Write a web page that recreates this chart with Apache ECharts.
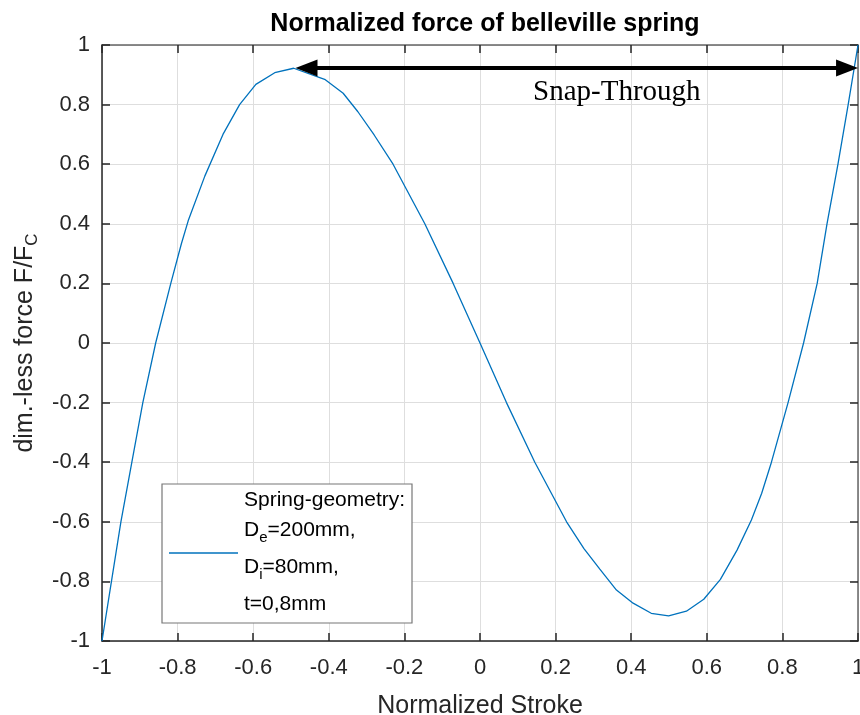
<!DOCTYPE html>
<html><head><meta charset="utf-8">
<script src="https://cdn.jsdelivr.net/npm/echarts@6/dist/echarts.min.js"></script>
<style>html,body{margin:0;padding:0;background:#fff}#c{width:860px;height:715px}</style>
</head><body><div id="c"></div>
<script>
// Normalized stroke (x) and dimensionless force (y)
const strokeValues = [-1, -0.975, -0.95, -0.921, -0.892, -0.858, -0.818, -0.79, -0.772, -0.728, -0.68, -0.636, -0.593, -0.543, -0.493, -0.411, -0.362, -0.323, -0.28, -0.23, -0.146, -0.071, 0, 0.07, 0.145, 0.229, 0.275, 0.317, 0.361, 0.405, 0.453, 0.499, 0.546, 0.592, 0.636, 0.68, 0.718, 0.745, 0.771, 0.815, 0.856, 0.892, 0.918, 0.947, 0.974, 1];
const forceValues = [-1, -0.8, -0.6, -0.4, -0.2, 0, 0.2, 0.333, 0.41, 0.56, 0.70, 0.80, 0.868, 0.907, 0.922, 0.885, 0.838, 0.776, 0.698, 0.6, 0.4, 0.2, 0, -0.2, -0.4, -0.6, -0.69, -0.759, -0.829, -0.873, -0.907, -0.916, -0.9, -0.86, -0.793, -0.695, -0.594, -0.505, -0.4, -0.2, 0, 0.2, 0.4, 0.6, 0.8, 1];
// arrow head centres (tips sit at x = -0.488 and x = 1)
const arrowStart = [-0.459, 0.923];
const arrowEnd = [0.971, 0.923];
const annotationText = 'Snap-Through';
const annotationPos = [0.362, 0.842];
const titleText = 'Normalized force of belleville spring';
const xName = 'Normalized Stroke';
const legendLines = ['Spring-geometry:', 'D|e|=200mm,', 'D|i|=80mm,', 't=0,8mm'];

const data = strokeValues.map((x, i) => [x, forceValues[i]]);
const chart = echarts.init(document.getElementById('c'), null, {renderer: 'canvas'});
const font = 'Liberation Sans, Arial, sans-serif';
const axisCommon = {
  type: 'value', min: -1, max: 1, interval: 0.2,
  axisTick: {show: true, inside: true, length: 8, lineStyle: {color: '#262626', width: 1.5}},
  axisLine: {show: true, onZero: false, lineStyle: {color: '#262626', width: 1.5}},
  splitLine: {show: false},
  axisLabel: {show: false}
};
chart.setOption({
  animation: false,
  backgroundColor: '#fff',
  title: {text: titleText, left: 480, top: 7, textAlign: 'center',
    textStyle: {fontFamily: font, fontWeight: 'bold', fontSize: 25, color: '#000'}},
  grid: {left: 102, right: 2, top: 45, bottom: 74, containLabel: false, outerBoundsMode: 'none'},
  xAxis: [
    Object.assign({}, axisCommon, {
      position: 'bottom',
      name: xName, nameLocation: 'middle', nameGap: 53,
      nameTextStyle: {fontFamily: font, fontSize: 25, color: '#262626'},
      axisLabel: {show: true, margin: 16, fontFamily: font, fontSize: 22, color: '#262626'},
      splitLine: {show: true, lineStyle: {color: '#dedede', width: 1}}
    }),
    Object.assign({}, axisCommon, {position: 'top',
      axisLine: {show: true, onZero: false, lineStyle: {color: '#666', width: 1.5}}})
  ],
  yAxis: [
    Object.assign({}, axisCommon, {
      position: 'left',
      name: '{a|dim.-less force F/F}{b|C}', nameLocation: 'middle', nameGap: 56, nameRotate: 90,
      nameTextStyle: {fontFamily: font, fontSize: 25, color: '#262626',
        rich: {a: {fontFamily: font, fontSize: 25, color: '#262626', lineHeight: 32},
               b: {fontFamily: font, fontSize: 17, color: '#262626', lineHeight: 32, padding: [15, 0, 0, 0]}}},
      axisLabel: {show: true, margin: 12, fontFamily: font, fontSize: 22, color: '#262626'},
      splitLine: {show: true, lineStyle: {color: '#dedede', width: 1}}
    }),
    Object.assign({}, axisCommon, {position: 'right',
      axisLine: {show: true, onZero: false, lineStyle: {color: '#666', width: 1.5}}})
  ],
  series: [{
    type: 'line', data: data, showSymbol: false, symbol: 'none',
    lineStyle: {color: '#0072BD', width: 1.3}, z: 3,
    markLine: {
      silent: true, symbol: ['triangle', 'triangle'], symbolSize: [17, 22],
      lineStyle: {color: '#000', width: 4, type: 'solid'},
      label: {show: false},
      data: [[{coord: arrowStart}, {coord: arrowEnd}]]
    }
  }]
});

function buildGraphics() {
  const p = chart.convertToPixel({gridIndex: 0}, annotationPos);
  const lx = 162, ly = 484, lw = 250, lh = 139;
  const rich = {n: {fontFamily: font, fontSize: 21, color: '#000'},
                s: {fontFamily: font, fontSize: 15, color: '#000', padding: [14, 0, 0, 0]}};
  const ys = [503, 533, 570, 607];
  const texts = legendLines.map((t, i) => {
    const parts = t.split('|');
    const txt = parts.length === 3 ? '{n|' + parts[0] + '}{s|' + parts[1] + '}{n|' + parts[2] + '}' : '{n|' + t + '}';
    return {type: 'text', left: 244, top: ys[i] - 13,
      style: {text: txt, rich: rich, fontFamily: font, fontSize: 21, fill: '#000'}};
  });
  chart.setOption({graphic: [
    {type: 'text', x: p[0], y: p[1], style: {text: annotationText, fontFamily: 'Liberation Serif, Times New Roman, serif', fontSize: 29, fill: '#000', align: 'center', verticalAlign: 'middle'}, z: 10},
    {type: 'rect', shape: {x: lx, y: ly, width: lw, height: lh}, style: {fill: '#fff', stroke: '#777', lineWidth: 1.2}, z: 10},
    {type: 'line', shape: {x1: 169, y1: 553, x2: 238, y2: 553}, style: {stroke: '#0072BD', lineWidth: 1.3}, z: 11}
  ].concat(texts.map(t => Object.assign(t, {z: 11})))});
}
buildGraphics();
</script></body></html>
